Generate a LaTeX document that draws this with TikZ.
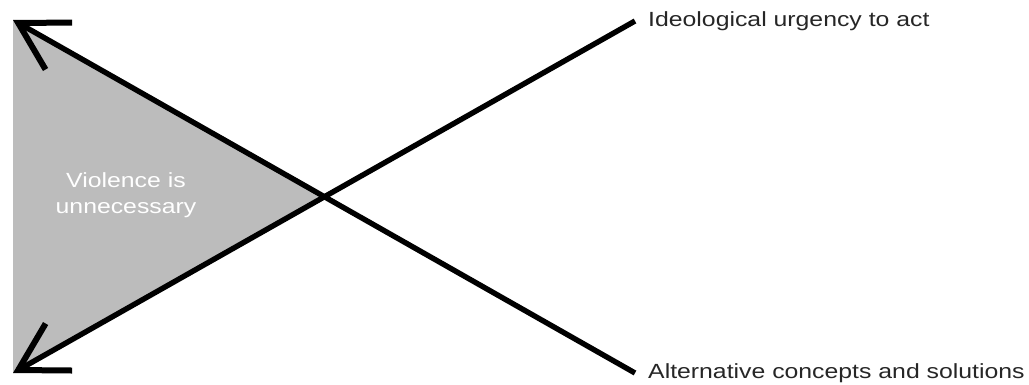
\documentclass[tikz,border=0pt]{standalone}
\usepackage{fontspec}
\setmainfont{Liberation Sans}[FakeStretch=1.21]
\usetikzlibrary{arrows.meta}
\definecolor{zonegray}{RGB}{188,188,188}
\definecolor{labelink}{RGB}{38,38,38}

\begin{document}
\begin{tikzpicture}[
  x=1pt, y=-1pt,
  font=\fontsize{20.5}{26}\selectfont,
  arrow/.style={{Straight Barb[angle=60:54pt, line width=6pt]}-, line width=5.4pt, line join=miter},
  label/.style={anchor=base west, text=labelink, inner sep=0pt},
  zonetext/.style={text=white, align=center, inner sep=0pt}
]
\useasboundingbox (0,0) rectangle (1029,385);

% End points of the two lines
\coordinate (altTip) at (13,20);
\coordinate (ideoTip) at (13,373);
\coordinate (ideoEnd) at (635,21);
\coordinate (altEnd) at (635,373);
\coordinate (cross) at (intersection of altTip--altEnd and ideoTip--ideoEnd);

% Shaded zone
\fill[zonegray] (altTip) -- (cross) -- (ideoTip) -- cycle;
\node[zonetext] (zone) at (126,195) {Violence is\\unnecessary};

% Lines
\draw[arrow] (altTip) -- (altEnd);
\draw[arrow] (ideoTip) -- (ideoEnd);

% Labels
\node[label] (ideo) at (648,27) {Ideological urgency to act};
\node[label] (alt) at (648,378) {Alternative concepts and solutions};

\end{tikzpicture}
\end{document}
